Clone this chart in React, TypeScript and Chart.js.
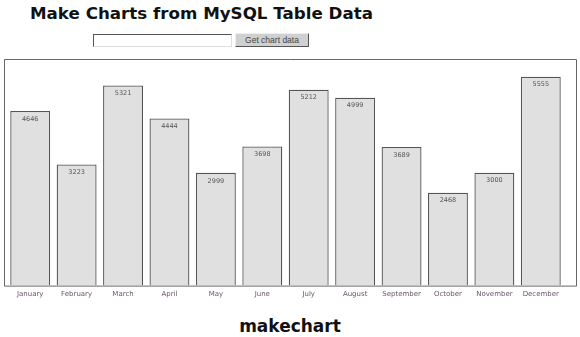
import React, { useEffect, useRef } from "react";
import { Chart, registerables } from "chart.js";

Chart.register(...registerables);

const months = ["January", "February", "March", "April", "May", "June", "July", "August", "September", "October", "November", "December"];
const sales = [4646, 3223, 5321, 4444, 2999, 3698, 5212, 4999, 3689, 2468, 3000, 5555];
const yMax = 6000;

const framePlugin = {
  id: "frame",
  afterDatasetsDraw(chart: any) {
    const { ctx, chartArea } = chart;
    ctx.save();
    const meta = chart.getDatasetMeta(0);
    ctx.font = "6.5px 'DejaVu Sans', Verdana, sans-serif";
    ctx.fillStyle = "#555";
    ctx.textAlign = "center";
    ctx.textBaseline = "middle";
    meta.data.forEach((bar: any, i: number) => {
      ctx.fillText(String(chart.data.datasets[0].data[i]), bar.x, bar.y + 8);
    });
    ctx.strokeStyle = "#666";
    ctx.lineWidth = 1;
    ctx.beginPath();
    ctx.moveTo(4.5, chartArea.bottom + 0.5);
    ctx.lineTo(4.5, chartArea.top - 0.5);
    ctx.lineTo(chart.width - 3.5, chartArea.top - 0.5);
    ctx.lineTo(chart.width - 3.5, chartArea.bottom + 0.5);
    ctx.lineTo(4.5, chartArea.bottom + 0.5);
    ctx.stroke();
    ctx.restore();
  },
};

export default function App() {
  const ref = useRef<HTMLCanvasElement>(null);
  useEffect(() => {
    if (!ref.current) return;
    const chart = new Chart(ref.current, {
      type: "bar",
      data: {
        labels: months,
        datasets: [
          {
            data: sales,
            backgroundColor: "#e0e0e0",
            borderColor: "#555",
            borderWidth: 1.3,
            barPercentage: 0.86,
            categoryPercentage: 1,
          },
        ],
      },
      options: {
        animation: false,
        responsive: false,
        layout: { padding: { left: 7, right: 16, top: 10, bottom: 0 } },
        plugins: { legend: { display: false }, tooltip: { enabled: false } },
        scales: {
          y: { display: false, min: 0, max: yMax },
          x: {
            grid: { display: false, drawTicks: false },
            border: { display: false },
            ticks: {
              font: { size: 7, family: "'DejaVu Sans', Verdana, sans-serif" },
              color: "#6a556a",
              padding: 4,
              maxRotation: 0,
              autoSkip: false,
            },
          },
        },
      },
      plugins: [framePlugin],
    } as any);
    return () => chart.destroy();
  }, []);

  return (
    <div style={{ position: "absolute", left: 0, top: 0, width: 580, height: 337, background: "#fff", overflow: "hidden" }}>
      <div style={{ position: "absolute", left: 30, top: 3, font: "bold 16.7px 'DejaVu Sans', Verdana, sans-serif", lineHeight: "20px", color: "#111", whiteSpace: "nowrap" }}>
        Make Charts from MySQL Table Data
      </div>
      <input
        type="text"
        style={{ position: "absolute", left: 93, top: 34, width: 135, height: 9, padding: 1, border: "1px solid", borderColor: "#555 #ddd #ddd #555", margin: 0, background: "#fff" }}
      />
      <div style={{ position: "absolute", left: 235, top: 33, width: 72, height: 12, border: "1px solid", borderColor: "#eee #555 #555 #eee", background: "#d0d0d0", font: "8.5px 'Liberation Sans', Arial, sans-serif", lineHeight: "12px", textAlign: "center", color: "#444" }}>
        Get chart data
      </div>
      <canvas ref={ref} width={580} height={252} style={{ position: "absolute", left: 0, top: 50, width: 580, height: 252 }} />
      <div style={{ position: "absolute", left: 0, width: 580, top: 316, textAlign: "center", font: "bold 17px 'DejaVu Sans', Verdana, sans-serif", lineHeight: "20px", color: "#111" }}>
        makechart
      </div>
    </div>
  );
}
